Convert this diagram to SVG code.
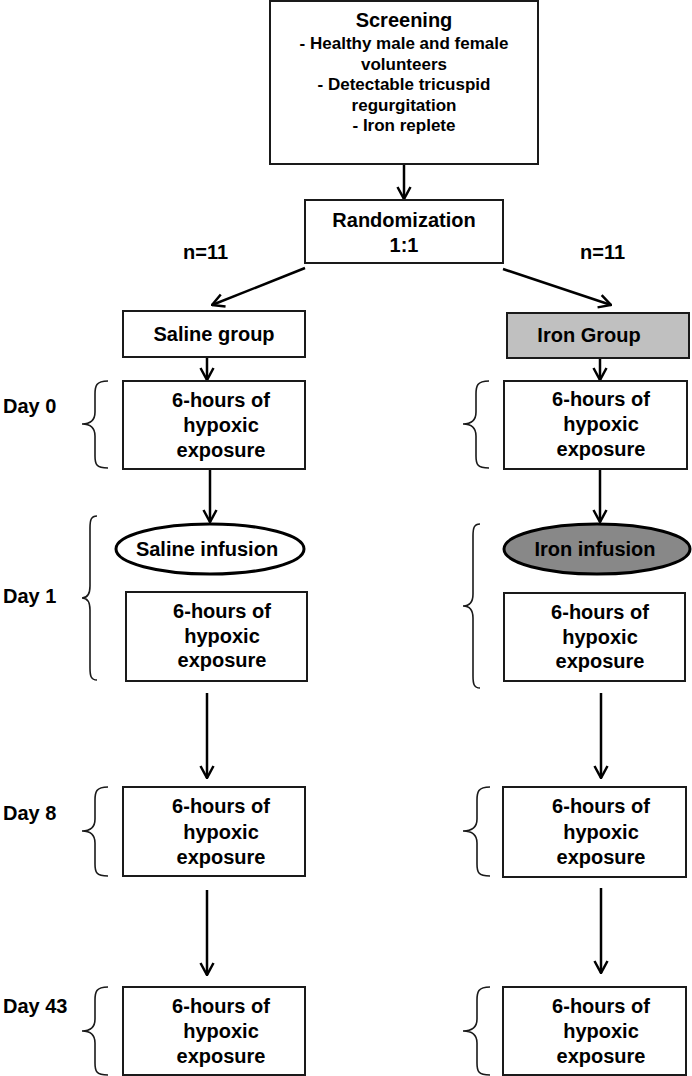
<svg xmlns="http://www.w3.org/2000/svg" width="692" height="1076" viewBox="0 0 692 1076">
<defs>
<style>
.box{fill:#fff;stroke:#1a1a1a;stroke-width:2}
.t{font-family:"Liberation Sans",Arial,sans-serif;font-weight:bold;font-size:20px;fill:#000;text-anchor:middle}
.s{font-size:17px}
.lbl{font-family:"Liberation Sans",Arial,sans-serif;font-weight:bold;font-size:20px;fill:#000}
.ar{stroke:#000;stroke-width:2.5;fill:none;marker-end:url(#ah)}
.br{stroke:#1a1a1a;stroke-width:1.6;fill:none}
</style>
<marker id="ah" viewBox="0 0 14 16" refX="13" refY="8" markerWidth="14" markerHeight="16" markerUnits="userSpaceOnUse" orient="auto">
<path d="M1,1.5 L13,8 L1,14.5" fill="none" stroke="#000" stroke-width="2.5"/>
</marker>
</defs>
<rect width="692" height="1076" fill="#fff"/>

<g id="connectors">
<line class="ar" x1="404" y1="164" x2="404" y2="199"/>
<line class="ar" x1="305" y1="268" x2="212" y2="305"/>
<line class="ar" x1="503" y1="269" x2="611" y2="305"/>
<line class="ar" x1="207" y1="357" x2="207" y2="380"/>
<line class="ar" x1="600" y1="358" x2="600" y2="380"/>
<line class="ar" x1="210" y1="469" x2="210" y2="522"/>
<line class="ar" x1="600" y1="469" x2="600" y2="522"/>
<line class="ar" x1="207" y1="693" x2="207" y2="778"/>
<line class="ar" x1="601" y1="693" x2="601" y2="778"/>
<line class="ar" x1="207" y1="890" x2="207" y2="975"/>
<line class="ar" x1="601" y1="888" x2="601" y2="973"/>
</g>

<g id="screening">
<rect class="box" x="270" y="1" width="268" height="163"/>
<text class="t" x="404" y="27">Screening</text>
<text class="t s" x="404" y="49">- Healthy male and female</text>
<text class="t s" x="404" y="69.5">volunteers</text>
<text class="t s" x="404" y="90">- Detectable tricuspid</text>
<text class="t s" x="404" y="110.5">regurgitation</text>
<text class="t s" x="404" y="131">- Iron replete</text>
</g>

<g id="randomization">
<rect class="box" x="305" y="200" width="198" height="63"/>
<text class="t" x="404" y="227">Randomization</text>
<text class="t" x="404" y="252">1:1</text>
</g>

<g id="n-left"><text class="lbl" x="183" y="259">n=11</text></g>
<g id="n-right"><text class="lbl" x="580" y="259">n=11</text></g>

<g id="saline-group">
<rect class="box" x="123" y="311" width="182" height="46"/>
<text class="t" x="214" y="341">Saline group</text>
</g>
<g id="iron-group">
<rect class="box" x="507" y="313" width="182" height="45" style="fill:#c0c0c0"/>
<text class="t" x="589" y="342">Iron Group</text>
</g>

<g id="day0-label"><text class="lbl" x="3" y="413">Day 0</text></g>
<g id="day1-label"><text class="lbl" x="3" y="603">Day 1</text></g>
<g id="day8-label"><text class="lbl" x="3" y="820">Day 8</text></g>
<g id="day43-label"><text class="lbl" x="3" y="1013">Day 43</text></g>

<g id="braces">
<path class="br" d="M108,381 C96,381 95,386 95,394 L95,412 C95,420 91,424 82,424 C91,424 95,428 95,436 L95,456 C95,464 96,468 108,468"/>
<path class="br" d="M97,516 C91,516 90,520 90,528 L90,586 C90,594 87,598 82,598 C87,598 90,602 90,610 L90,668 C90,676 91,680 97,680"/>
<path class="br" d="M108,787 C96,787 95,792 95,800 L95,819 C95,827 91,831 82,831 C91,831 95,835 95,843 L95,864 C95,872 96,876 108,876"/>
<path class="br" d="M108,987 C96,987 95,992 95,1000 L95,1019 C95,1027 91,1031 82,1031 C91,1031 95,1035 95,1043 L95,1063 C95,1071 96,1075 108,1075"/>
<path class="br" d="M489,381 C477,381 476,386 476,394 L476,412 C476,420 472,424 463,424 C472,424 476,428 476,436 L476,456 C476,464 477,468 489,468"/>
<path class="br" d="M480,524 C474,524 473,528 473,536 L473,594 C473,602 470,606 463,606 C470,606 473,610 473,618 L473,676 C473,684 474,688 480,688"/>
<path class="br" d="M490,787 C478,787 477,792 477,800 L477,819 C477,827 473,831 463,831 C473,831 477,835 477,843 L477,864 C477,872 478,876 490,876"/>
<path class="br" d="M490,987 C478,987 477,992 477,1000 L477,1019 C477,1027 473,1031 463,1031 C473,1031 477,1035 477,1043 L477,1063 C477,1071 478,1075 490,1075"/>
</g>

<g id="saline-day0">
<rect class="box" x="123" y="381" width="182" height="88"/>
<text class="t" x="221" y="407">6-hours of</text>
<text class="t" x="221" y="432">hypoxic</text>
<text class="t" x="221" y="457">exposure</text>
</g>
<g id="iron-day0">
<rect class="box" x="504" y="381" width="183" height="88"/>
<text class="t" x="601" y="406">6-hours of</text>
<text class="t" x="601" y="431">hypoxic</text>
<text class="t" x="601" y="456">exposure</text>
</g>

<g id="saline-infusion">
<ellipse cx="210" cy="549" rx="94" ry="25" fill="#fff" stroke="#000" stroke-width="3"/>
<text class="t" x="207" y="556">Saline infusion</text>
</g>
<g id="iron-infusion">
<ellipse cx="597" cy="549" rx="93" ry="25" fill="#888" stroke="#000" stroke-width="3"/>
<text class="t" x="595" y="556">Iron infusion</text>
</g>

<g id="saline-day1">
<rect class="box" x="126" y="592" width="181" height="89"/>
<text class="t" x="222" y="618">6-hours of</text>
<text class="t" x="222" y="643">hypoxic</text>
<text class="t" x="222" y="667">exposure</text>
</g>
<g id="iron-day1">
<rect class="box" x="504" y="593" width="181" height="88"/>
<text class="t" x="600" y="619">6-hours of</text>
<text class="t" x="600" y="644">hypoxic</text>
<text class="t" x="600" y="668">exposure</text>
</g>

<g id="saline-day8">
<rect class="box" x="123" y="787" width="182" height="89"/>
<text class="t" x="221" y="813">6-hours of</text>
<text class="t" x="221" y="839">hypoxic</text>
<text class="t" x="221" y="864">exposure</text>
</g>
<g id="iron-day8">
<rect class="box" x="503" y="787" width="183" height="90"/>
<text class="t" x="601" y="813">6-hours of</text>
<text class="t" x="601" y="839">hypoxic</text>
<text class="t" x="601" y="864">exposure</text>
</g>

<g id="saline-day43">
<rect class="box" x="123" y="987" width="182" height="88"/>
<text class="t" x="221" y="1013">6-hours of</text>
<text class="t" x="221" y="1038">hypoxic</text>
<text class="t" x="221" y="1063">exposure</text>
</g>
<g id="iron-day43">
<rect class="box" x="503" y="987" width="183" height="88"/>
<text class="t" x="601" y="1013">6-hours of</text>
<text class="t" x="601" y="1038">hypoxic</text>
<text class="t" x="601" y="1063">exposure</text>
</g>
</svg>
